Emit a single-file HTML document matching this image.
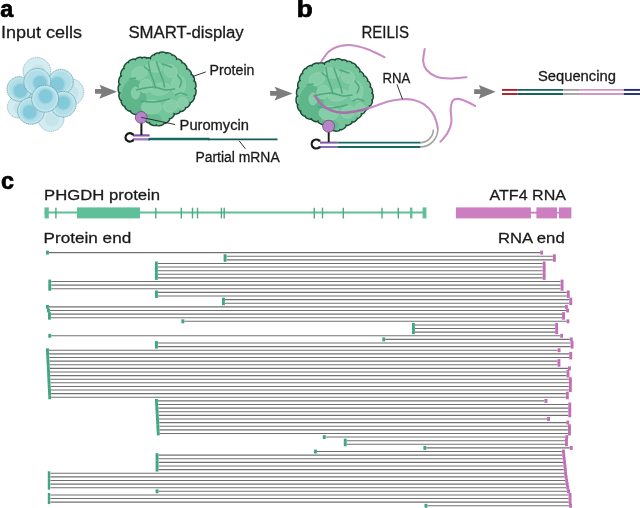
<!DOCTYPE html>
<html><head><meta charset="utf-8"><style>
html,body{margin:0;padding:0;background:#fff;}
svg{display:block;}
text{font-family:"Liberation Sans", sans-serif;}
</style></head><body>
<svg width="640" height="508" viewBox="0 0 640 508">
<rect width="640" height="508" fill="#fff"/>
<circle cx="36.9" cy="71.2" r="13.8" fill="#d3ecf1" stroke="#87b2b9" stroke-width="0.85" stroke-dasharray="1.2 0.7"/>
<circle cx="37.9" cy="72.2" r="7.6" fill="#c6e5eb"/>
<circle cx="18.4" cy="107.0" r="11.0" fill="#d3ecf1" stroke="#87b2b9" stroke-width="0.85" stroke-dasharray="1.2 0.7"/>
<circle cx="19.4" cy="108.0" r="6.1" fill="#c6e5eb"/>
<circle cx="70.3" cy="92.0" r="13.4" fill="#d3ecf1" stroke="#87b2b9" stroke-width="0.85" stroke-dasharray="1.2 0.7"/>
<circle cx="71.3" cy="93.0" r="7.4" fill="#c6e5eb"/>
<circle cx="51.0" cy="118.4" r="13.0" fill="#d3ecf1" stroke="#87b2b9" stroke-width="0.85" stroke-dasharray="1.2 0.7"/>
<circle cx="52.0" cy="119.4" r="7.2" fill="#c6e5eb"/>
<circle cx="27" cy="97" r="8" fill="#b0dde7"/>
<circle cx="19.3" cy="89.0" r="12.3" fill="#bde5ed" stroke="#6399a2" stroke-width="0.85" stroke-dasharray="1.3 0.6"/>
<circle cx="19.3" cy="89.0" r="9.9" fill="#b0dde7" />
<circle cx="20.4" cy="90.8" r="8.1" fill="#9fd4e0" />
<circle cx="20.4" cy="90.8" r="6.7" fill="#84c9da" />
<circle cx="60.9" cy="81.8" r="12.4" fill="#bde5ed" stroke="#6399a2" stroke-width="0.85" stroke-dasharray="1.3 0.6"/>
<circle cx="60.9" cy="81.8" r="10.0" fill="#b0dde7" />
<circle cx="57.4" cy="84.1" r="8.2" fill="#9fd4e0" />
<circle cx="57.4" cy="84.1" r="6.8" fill="#84c9da" />
<circle cx="37.3" cy="81.8" r="13.4" fill="#bde5ed" stroke="#6399a2" stroke-width="0.85" stroke-dasharray="1.3 0.6"/>
<circle cx="37.3" cy="81.8" r="11.0" fill="#b0dde7" />
<circle cx="40.0" cy="82.6" r="7.9" fill="#9fd4e0" />
<circle cx="40.0" cy="82.6" r="6.5" fill="#84c9da" />
<circle cx="63.3" cy="104.2" r="12.8" fill="#bde5ed" stroke="#6399a2" stroke-width="0.85" stroke-dasharray="1.3 0.6"/>
<circle cx="63.3" cy="104.2" r="10.4" fill="#b0dde7" />
<circle cx="63.3" cy="102.7" r="7.9" fill="#9fd4e0" />
<circle cx="63.3" cy="102.7" r="6.5" fill="#84c9da" />
<circle cx="31.0" cy="110.9" r="13.4" fill="#bde5ed" stroke="#6399a2" stroke-width="0.85" stroke-dasharray="1.3 0.6"/>
<circle cx="31.0" cy="110.9" r="11.0" fill="#b0dde7" />
<circle cx="29.8" cy="112.1" r="8.1" fill="#9fd4e0" />
<circle cx="29.8" cy="112.1" r="6.7" fill="#84c9da" />
<circle cx="45.1" cy="98.7" r="13.5" fill="#bde5ed" stroke="#6399a2" stroke-width="0.85" stroke-dasharray="1.3 0.6"/>
<circle cx="45.1" cy="98.7" r="11.1" fill="#b0dde7" />
<circle cx="45.6" cy="96.3" r="8.1" fill="#9fd4e0" />
<circle cx="45.6" cy="96.3" r="6.7" fill="#84c9da" />
<polygon points="95,89.1 101.5,89.1 99.4,84.7 117,91.7 99.4,98.7 101.5,93.8 95,93.8" fill="#7d7d7d"/>
<polygon points="270.1,91.1 276.7,91.1 274.5,86.8 292.6,93.4 274.5,100.5 276.7,95.8 270.1,95.8" fill="#7d7d7d"/>
<polygon points="474.1,89.3 480.6,89.3 478.8,85.0 495.6,91.7 478.8,98.7 480.6,94.1 474.1,94.1" fill="#7d7d7d"/>
<clipPath id="cpA"><path d="M121.50,76.00 C119.31,75.21 122.01,67.71 124.20,68.50 C122.44,67.24 126.74,61.24 128.50,62.50 C127.71,60.45 134.71,57.75 135.50,59.80 C135.03,57.90 141.53,56.30 142.00,58.20 C142.03,56.88 146.53,56.98 146.50,58.30 C146.65,57.13 150.65,57.63 150.50,58.80 C149.39,57.63 153.39,53.83 154.50,55.00 C154.06,53.68 158.56,52.18 159.00,53.50 C159.03,51.45 166.03,51.55 166.00,53.60 C166.47,51.84 172.47,53.44 172.00,55.20 C173.17,53.88 177.67,57.88 176.50,59.20 C177.61,57.59 183.11,61.39 182.00,63.00 C183.76,61.68 188.26,67.68 186.50,69.00 C188.11,67.68 192.61,73.18 191.00,74.50 C192.90,73.68 195.70,80.18 193.80,81.00 C195.99,80.71 196.99,88.21 194.80,88.50 C196.99,88.73 196.19,96.23 194.00,96.00 C195.90,97.17 191.90,103.67 190.00,102.50 C191.46,103.82 186.96,108.82 185.50,107.50 C186.58,109.11 181.08,112.81 180.00,111.20 C180.67,112.96 174.67,115.26 174.00,113.50 C175.46,114.82 170.96,119.82 169.50,118.50 C170.82,120.11 165.32,124.61 164.00,123.00 C164.53,125.19 157.03,126.99 156.50,124.80 C155.86,126.85 148.86,124.65 149.50,122.60 C148.39,124.06 143.39,120.26 144.50,118.80 C143.04,120.85 136.04,115.85 137.50,113.80 C136.62,115.85 129.62,112.85 130.50,110.80 C129.15,112.41 123.65,107.81 125.00,106.20 C123.33,107.22 119.83,101.52 121.50,100.50 C119.31,100.94 117.81,93.44 120.00,93.00 C117.51,93.00 117.51,84.50 120.00,84.50 C117.51,84.06 119.01,75.56 121.50,76.00Z"/></clipPath>
<path d="M121.50,76.00 C119.31,75.21 122.01,67.71 124.20,68.50 C122.44,67.24 126.74,61.24 128.50,62.50 C127.71,60.45 134.71,57.75 135.50,59.80 C135.03,57.90 141.53,56.30 142.00,58.20 C142.03,56.88 146.53,56.98 146.50,58.30 C146.65,57.13 150.65,57.63 150.50,58.80 C149.39,57.63 153.39,53.83 154.50,55.00 C154.06,53.68 158.56,52.18 159.00,53.50 C159.03,51.45 166.03,51.55 166.00,53.60 C166.47,51.84 172.47,53.44 172.00,55.20 C173.17,53.88 177.67,57.88 176.50,59.20 C177.61,57.59 183.11,61.39 182.00,63.00 C183.76,61.68 188.26,67.68 186.50,69.00 C188.11,67.68 192.61,73.18 191.00,74.50 C192.90,73.68 195.70,80.18 193.80,81.00 C195.99,80.71 196.99,88.21 194.80,88.50 C196.99,88.73 196.19,96.23 194.00,96.00 C195.90,97.17 191.90,103.67 190.00,102.50 C191.46,103.82 186.96,108.82 185.50,107.50 C186.58,109.11 181.08,112.81 180.00,111.20 C180.67,112.96 174.67,115.26 174.00,113.50 C175.46,114.82 170.96,119.82 169.50,118.50 C170.82,120.11 165.32,124.61 164.00,123.00 C164.53,125.19 157.03,126.99 156.50,124.80 C155.86,126.85 148.86,124.65 149.50,122.60 C148.39,124.06 143.39,120.26 144.50,118.80 C143.04,120.85 136.04,115.85 137.50,113.80 C136.62,115.85 129.62,112.85 130.50,110.80 C129.15,112.41 123.65,107.81 125.00,106.20 C123.33,107.22 119.83,101.52 121.50,100.50 C119.31,100.94 117.81,93.44 120.00,93.00 C117.51,93.00 117.51,84.50 120.00,84.50 C117.51,84.06 119.01,75.56 121.50,76.00Z" fill="#74c59c"/>
<g clip-path="url(#cpA)">
<ellipse cx="133.5" cy="101" rx="13" ry="22" fill="#5fb68b"/>
<ellipse cx="149.5" cy="119" rx="12" ry="6" fill="#66ba90"/>
<ellipse cx="139.5" cy="73.0" rx="8" ry="6" transform="rotate(-20 139.5 73.0)" fill="#84cda7" stroke="#93d4b2" stroke-width="0.8"/>
<ellipse cx="154.5" cy="67.0" rx="8" ry="5" transform="rotate(10 154.5 67.0)" fill="#84cda7" stroke="#93d4b2" stroke-width="0.8"/>
<ellipse cx="170.5" cy="71.0" rx="7" ry="6" transform="rotate(40 170.5 71.0)" fill="#84cda7" stroke="#93d4b2" stroke-width="0.8"/>
<ellipse cx="178.5" cy="85.0" rx="7" ry="10" transform="rotate(0 178.5 85.0)" fill="#84cda7" stroke="#93d4b2" stroke-width="0.8"/>
<ellipse cx="145.5" cy="86.0" rx="6" ry="7" transform="rotate(30 145.5 86.0)" fill="#84cda7" stroke="#93d4b2" stroke-width="0.8"/>
<ellipse cx="160.5" cy="89.0" rx="10" ry="6" transform="rotate(-10 160.5 89.0)" fill="#84cda7" stroke="#93d4b2" stroke-width="0.8"/>
<ellipse cx="135.5" cy="93.0" rx="4" ry="6" transform="rotate(0 135.5 93.0)" fill="#84cda7" stroke="#93d4b2" stroke-width="0.8"/>
<ellipse cx="151.5" cy="107.0" rx="10" ry="7" transform="rotate(0 151.5 107.0)" fill="#84cda7" stroke="#93d4b2" stroke-width="0.8"/>
<ellipse cx="170.5" cy="106.0" rx="7" ry="6" transform="rotate(-20 170.5 106.0)" fill="#84cda7" stroke="#93d4b2" stroke-width="0.8"/>
<ellipse cx="182.5" cy="103.0" rx="5" ry="6" transform="rotate(0 182.5 103.0)" fill="#84cda7" stroke="#93d4b2" stroke-width="0.8"/>
<path d="M148.50,62.00 C148.83,63.83 149.67,69.83 150.50,73.00 C151.33,76.17 152.67,78.50 153.50,81.00 C154.33,83.50 155.17,86.83 155.50,88.00" fill="none" stroke="#4fa97d" stroke-width="1.5" stroke-linecap="round"/>
<path d="M156.50,62.00 C157.00,63.50 158.33,67.67 159.50,71.00 C160.67,74.33 162.67,79.33 163.50,82.00 C164.33,84.67 164.33,86.17 164.50,87.00" fill="none" stroke="#4fa97d" stroke-width="1.5" stroke-linecap="round"/>
<path d="M136.50,90.00 C138.00,89.67 142.50,88.50 145.50,88.00 C148.50,87.50 151.17,86.67 154.50,87.00 C157.83,87.33 162.17,89.67 165.50,90.00 C168.83,90.33 173.00,89.17 174.50,89.00" fill="none" stroke="#4fa97d" stroke-width="1.5" stroke-linecap="round"/>
<path d="M140.50,101.00 C142.67,101.17 148.67,102.33 153.50,102.00 C158.33,101.67 166.83,99.50 169.50,99.00" fill="none" stroke="#4fa97d" stroke-width="1.5" stroke-linecap="round"/>
<path d="M129.50,79.00 C130.50,78.83 134.50,78.17 135.50,78.00" fill="none" stroke="#4fa97d" stroke-width="1.5" stroke-linecap="round"/>
<path d="M162.50,64.00 C164.00,64.50 170.00,66.50 171.50,67.00" fill="none" stroke="#4fa97d" stroke-width="1.5" stroke-linecap="round"/>
<path d="M175.50,95.00 C176.33,94.67 178.67,93.00 180.50,93.00 C182.33,93.00 185.50,94.67 186.50,95.00" fill="none" stroke="#4fa97d" stroke-width="1.5" stroke-linecap="round"/>
<path d="M144.50,67.00 C145.33,67.67 148.67,70.33 149.50,71.00" fill="none" stroke="#4fa97d" stroke-width="1.5" stroke-linecap="round"/>
<path d="M177.50,75.00 C178.17,76.00 181.17,79.00 181.50,81.00 C181.83,83.00 179.83,86.00 179.50,87.00" fill="none" stroke="#4fa97d" stroke-width="1.5" stroke-linecap="round"/>
</g>
<path d="M121.50,76.00 C119.31,75.21 122.01,67.71 124.20,68.50 C122.44,67.24 126.74,61.24 128.50,62.50 C127.71,60.45 134.71,57.75 135.50,59.80 C135.03,57.90 141.53,56.30 142.00,58.20 C142.03,56.88 146.53,56.98 146.50,58.30 C146.65,57.13 150.65,57.63 150.50,58.80 C149.39,57.63 153.39,53.83 154.50,55.00 C154.06,53.68 158.56,52.18 159.00,53.50 C159.03,51.45 166.03,51.55 166.00,53.60 C166.47,51.84 172.47,53.44 172.00,55.20 C173.17,53.88 177.67,57.88 176.50,59.20 C177.61,57.59 183.11,61.39 182.00,63.00 C183.76,61.68 188.26,67.68 186.50,69.00 C188.11,67.68 192.61,73.18 191.00,74.50 C192.90,73.68 195.70,80.18 193.80,81.00 C195.99,80.71 196.99,88.21 194.80,88.50 C196.99,88.73 196.19,96.23 194.00,96.00 C195.90,97.17 191.90,103.67 190.00,102.50 C191.46,103.82 186.96,108.82 185.50,107.50 C186.58,109.11 181.08,112.81 180.00,111.20 C180.67,112.96 174.67,115.26 174.00,113.50 C175.46,114.82 170.96,119.82 169.50,118.50 C170.82,120.11 165.32,124.61 164.00,123.00 C164.53,125.19 157.03,126.99 156.50,124.80 C155.86,126.85 148.86,124.65 149.50,122.60 C148.39,124.06 143.39,120.26 144.50,118.80 C143.04,120.85 136.04,115.85 137.50,113.80 C136.62,115.85 129.62,112.85 130.50,110.80 C129.15,112.41 123.65,107.81 125.00,106.20 C123.33,107.22 119.83,101.52 121.50,100.50 C119.31,100.94 117.81,93.44 120.00,93.00 C117.51,93.00 117.51,84.50 120.00,84.50 C117.51,84.06 119.01,75.56 121.50,76.00Z" fill="none" stroke="#1d4a33" stroke-width="1.45" stroke-linejoin="round"/>
<clipPath id="cpB"><path d="M297.80,96.00 C295.46,95.71 296.46,87.71 298.80,88.00 C296.61,87.59 298.01,80.09 300.20,80.50 C298.15,79.74 300.75,72.74 302.80,73.50 C301.34,72.42 305.04,67.42 306.50,68.50 C305.77,66.89 311.27,64.39 312.00,66.00 C311.36,64.10 317.86,61.90 318.50,63.80 C318.65,62.04 324.65,62.54 324.50,64.30 C323.71,62.98 328.21,60.28 329.00,61.60 C328.59,59.84 334.59,58.44 335.00,60.20 C335.09,58.15 342.09,58.45 342.00,60.50 C342.38,59.04 347.38,60.34 347.00,61.80 C347.41,60.34 352.41,61.74 352.00,63.20 C353.11,61.94 357.41,65.74 356.30,67.00 C357.70,65.98 361.20,70.78 359.80,71.80 C361.03,70.69 364.83,74.89 363.60,76.00 C365.06,74.89 368.86,79.89 367.40,81.00 C369.16,80.24 371.76,86.24 370.00,87.00 C371.81,86.47 373.61,92.67 371.80,93.20 C373.79,93.20 373.79,100.00 371.80,100.00 C373.50,100.70 371.10,106.50 369.40,105.80 C370.57,107.03 366.37,111.03 365.20,109.80 C366.37,110.97 362.37,114.97 361.20,113.80 C362.49,114.97 358.49,119.37 357.20,118.20 C358.19,119.72 352.99,123.12 352.00,121.60 C352.99,123.36 346.99,126.76 346.00,125.00 C347.29,126.76 341.29,131.16 340.00,129.40 C340.32,131.01 334.82,132.11 334.50,130.50 C333.77,131.82 329.27,129.32 330.00,128.00 C328.83,129.61 323.33,125.61 324.50,124.00 C323.62,125.90 317.12,122.90 318.00,121.00 C317.30,122.90 310.80,120.50 311.50,118.60 C310.74,120.44 304.44,117.84 305.20,116.00 C303.74,117.29 299.34,112.29 300.80,111.00 C298.90,111.82 296.10,105.32 298.00,104.50 C295.51,104.56 295.31,96.06 297.80,96.00Z"/></clipPath>
<path d="M297.80,96.00 C295.46,95.71 296.46,87.71 298.80,88.00 C296.61,87.59 298.01,80.09 300.20,80.50 C298.15,79.74 300.75,72.74 302.80,73.50 C301.34,72.42 305.04,67.42 306.50,68.50 C305.77,66.89 311.27,64.39 312.00,66.00 C311.36,64.10 317.86,61.90 318.50,63.80 C318.65,62.04 324.65,62.54 324.50,64.30 C323.71,62.98 328.21,60.28 329.00,61.60 C328.59,59.84 334.59,58.44 335.00,60.20 C335.09,58.15 342.09,58.45 342.00,60.50 C342.38,59.04 347.38,60.34 347.00,61.80 C347.41,60.34 352.41,61.74 352.00,63.20 C353.11,61.94 357.41,65.74 356.30,67.00 C357.70,65.98 361.20,70.78 359.80,71.80 C361.03,70.69 364.83,74.89 363.60,76.00 C365.06,74.89 368.86,79.89 367.40,81.00 C369.16,80.24 371.76,86.24 370.00,87.00 C371.81,86.47 373.61,92.67 371.80,93.20 C373.79,93.20 373.79,100.00 371.80,100.00 C373.50,100.70 371.10,106.50 369.40,105.80 C370.57,107.03 366.37,111.03 365.20,109.80 C366.37,110.97 362.37,114.97 361.20,113.80 C362.49,114.97 358.49,119.37 357.20,118.20 C358.19,119.72 352.99,123.12 352.00,121.60 C352.99,123.36 346.99,126.76 346.00,125.00 C347.29,126.76 341.29,131.16 340.00,129.40 C340.32,131.01 334.82,132.11 334.50,130.50 C333.77,131.82 329.27,129.32 330.00,128.00 C328.83,129.61 323.33,125.61 324.50,124.00 C323.62,125.90 317.12,122.90 318.00,121.00 C317.30,122.90 310.80,120.50 311.50,118.60 C310.74,120.44 304.44,117.84 305.20,116.00 C303.74,117.29 299.34,112.29 300.80,111.00 C298.90,111.82 296.10,105.32 298.00,104.50 C295.51,104.56 295.31,96.06 297.80,96.00Z" fill="#74c59c"/>
<g clip-path="url(#cpB)">
<ellipse cx="311" cy="107" rx="13" ry="22" fill="#5fb68b"/>
<ellipse cx="327" cy="125" rx="12" ry="6" fill="#66ba90"/>
<ellipse cx="317.0" cy="79.0" rx="8" ry="6" transform="rotate(-20 317.0 79.0)" fill="#84cda7" stroke="#93d4b2" stroke-width="0.8"/>
<ellipse cx="332.0" cy="73.0" rx="8" ry="5" transform="rotate(10 332.0 73.0)" fill="#84cda7" stroke="#93d4b2" stroke-width="0.8"/>
<ellipse cx="348.0" cy="77.0" rx="7" ry="6" transform="rotate(40 348.0 77.0)" fill="#84cda7" stroke="#93d4b2" stroke-width="0.8"/>
<ellipse cx="356.0" cy="91.0" rx="7" ry="10" transform="rotate(0 356.0 91.0)" fill="#84cda7" stroke="#93d4b2" stroke-width="0.8"/>
<ellipse cx="323.0" cy="92.0" rx="6" ry="7" transform="rotate(30 323.0 92.0)" fill="#84cda7" stroke="#93d4b2" stroke-width="0.8"/>
<ellipse cx="338.0" cy="95.0" rx="10" ry="6" transform="rotate(-10 338.0 95.0)" fill="#84cda7" stroke="#93d4b2" stroke-width="0.8"/>
<ellipse cx="313.0" cy="99.0" rx="4" ry="6" transform="rotate(0 313.0 99.0)" fill="#84cda7" stroke="#93d4b2" stroke-width="0.8"/>
<ellipse cx="329.0" cy="113.0" rx="10" ry="7" transform="rotate(0 329.0 113.0)" fill="#84cda7" stroke="#93d4b2" stroke-width="0.8"/>
<ellipse cx="348.0" cy="112.0" rx="7" ry="6" transform="rotate(-20 348.0 112.0)" fill="#84cda7" stroke="#93d4b2" stroke-width="0.8"/>
<ellipse cx="360.0" cy="109.0" rx="5" ry="6" transform="rotate(0 360.0 109.0)" fill="#84cda7" stroke="#93d4b2" stroke-width="0.8"/>
<path d="M326.00,68.00 C326.33,69.83 327.17,75.83 328.00,79.00 C328.83,82.17 330.17,84.50 331.00,87.00 C331.83,89.50 332.67,92.83 333.00,94.00" fill="none" stroke="#4fa97d" stroke-width="1.5" stroke-linecap="round"/>
<path d="M334.00,68.00 C334.50,69.50 335.83,73.67 337.00,77.00 C338.17,80.33 340.17,85.33 341.00,88.00 C341.83,90.67 341.83,92.17 342.00,93.00" fill="none" stroke="#4fa97d" stroke-width="1.5" stroke-linecap="round"/>
<path d="M314.00,96.00 C315.50,95.67 320.00,94.50 323.00,94.00 C326.00,93.50 328.67,92.67 332.00,93.00 C335.33,93.33 339.67,95.67 343.00,96.00 C346.33,96.33 350.50,95.17 352.00,95.00" fill="none" stroke="#4fa97d" stroke-width="1.5" stroke-linecap="round"/>
<path d="M318.00,107.00 C320.17,107.17 326.17,108.33 331.00,108.00 C335.83,107.67 344.33,105.50 347.00,105.00" fill="none" stroke="#4fa97d" stroke-width="1.5" stroke-linecap="round"/>
<path d="M307.00,85.00 C308.00,84.83 312.00,84.17 313.00,84.00" fill="none" stroke="#4fa97d" stroke-width="1.5" stroke-linecap="round"/>
<path d="M340.00,70.00 C341.50,70.50 347.50,72.50 349.00,73.00" fill="none" stroke="#4fa97d" stroke-width="1.5" stroke-linecap="round"/>
<path d="M353.00,101.00 C353.83,100.67 356.17,99.00 358.00,99.00 C359.83,99.00 363.00,100.67 364.00,101.00" fill="none" stroke="#4fa97d" stroke-width="1.5" stroke-linecap="round"/>
<path d="M322.00,73.00 C322.83,73.67 326.17,76.33 327.00,77.00" fill="none" stroke="#4fa97d" stroke-width="1.5" stroke-linecap="round"/>
<path d="M355.00,81.00 C355.67,82.00 358.67,85.00 359.00,87.00 C359.33,89.00 357.33,92.00 357.00,93.00" fill="none" stroke="#4fa97d" stroke-width="1.5" stroke-linecap="round"/>
</g>
<path d="M297.80,96.00 C295.46,95.71 296.46,87.71 298.80,88.00 C296.61,87.59 298.01,80.09 300.20,80.50 C298.15,79.74 300.75,72.74 302.80,73.50 C301.34,72.42 305.04,67.42 306.50,68.50 C305.77,66.89 311.27,64.39 312.00,66.00 C311.36,64.10 317.86,61.90 318.50,63.80 C318.65,62.04 324.65,62.54 324.50,64.30 C323.71,62.98 328.21,60.28 329.00,61.60 C328.59,59.84 334.59,58.44 335.00,60.20 C335.09,58.15 342.09,58.45 342.00,60.50 C342.38,59.04 347.38,60.34 347.00,61.80 C347.41,60.34 352.41,61.74 352.00,63.20 C353.11,61.94 357.41,65.74 356.30,67.00 C357.70,65.98 361.20,70.78 359.80,71.80 C361.03,70.69 364.83,74.89 363.60,76.00 C365.06,74.89 368.86,79.89 367.40,81.00 C369.16,80.24 371.76,86.24 370.00,87.00 C371.81,86.47 373.61,92.67 371.80,93.20 C373.79,93.20 373.79,100.00 371.80,100.00 C373.50,100.70 371.10,106.50 369.40,105.80 C370.57,107.03 366.37,111.03 365.20,109.80 C366.37,110.97 362.37,114.97 361.20,113.80 C362.49,114.97 358.49,119.37 357.20,118.20 C358.19,119.72 352.99,123.12 352.00,121.60 C352.99,123.36 346.99,126.76 346.00,125.00 C347.29,126.76 341.29,131.16 340.00,129.40 C340.32,131.01 334.82,132.11 334.50,130.50 C333.77,131.82 329.27,129.32 330.00,128.00 C328.83,129.61 323.33,125.61 324.50,124.00 C323.62,125.90 317.12,122.90 318.00,121.00 C317.30,122.90 310.80,120.50 311.50,118.60 C310.74,120.44 304.44,117.84 305.20,116.00 C303.74,117.29 299.34,112.29 300.80,111.00 C298.90,111.82 296.10,105.32 298.00,104.50 C295.51,104.56 295.31,96.06 297.80,96.00Z" fill="none" stroke="#1d4a33" stroke-width="1.45" stroke-linejoin="round"/>
<line x1="192.5" y1="76.6" x2="205.8" y2="71.9" stroke="#231f20" stroke-width="0.9"/>
<line x1="142" y1="117.5" x2="175" y2="124.5" stroke="#231f20" stroke-width="0.9"/>
<line x1="239" y1="140.6" x2="245.4" y2="148.8" stroke="#231f20" stroke-width="0.9"/>
<line x1="149.4" y1="139.1" x2="209.4" y2="139.1" stroke="#176a63" stroke-width="2.5"/>
<line x1="208" y1="139.35" x2="277.5" y2="139.35" stroke="#135b56" stroke-width="1.6"/>
<line x1="133.0" y1="135.4" x2="149.6" y2="135.4" stroke="#7d5a9e" stroke-width="2.2"/>
<line x1="133.0" y1="139.3" x2="148.6" y2="139.3" stroke="#a37cc6" stroke-width="2.4"/>
<line x1="148.2" y1="139.3" x2="150" y2="139.3" stroke="#176a63" stroke-width="2.4"/>
<path d="M133.81,134.28 L132.61,134.28 A4.2,4.2 0 1 0 132.61,140.52 L133.81,140.52" fill="none" stroke="#1a1a1a" stroke-width="2.3"/>
<line x1="141.4" y1="122" x2="141.4" y2="135" stroke="#1a1a1a" stroke-width="2.0"/>
<circle cx="141.2" cy="117.4" r="5.9" fill="#b784c9" stroke="#6d4a7c" stroke-width="0.8"/>
<line x1="141.2" y1="117.4" x2="147" y2="118.6" stroke="#231f20" stroke-width="0.8"/>
<path d="M321.30,61.50 C322.47,59.90 325.73,54.32 328.30,51.90 C330.87,49.48 333.65,48.13 336.70,47.00 C339.75,45.87 343.32,45.27 346.60,45.10 C349.88,44.93 352.67,45.22 356.40,46.00 C360.13,46.78 364.32,47.93 369.00,49.80 C373.68,51.67 381.92,55.97 384.50,57.20" fill="none" stroke="#c98dc6" stroke-width="2.1" stroke-linecap="round"/>
<path d="M315.10,95.80 C316.22,97.32 319.03,102.42 321.80,104.90 C324.57,107.38 328.13,109.38 331.70,110.70 C335.27,112.02 339.35,112.67 343.20,112.80 C347.05,112.93 350.93,112.13 354.80,111.50 C358.67,110.87 362.53,110.10 366.40,109.00 C370.27,107.90 374.23,106.20 378.00,104.90 C381.77,103.60 385.02,102.13 389.00,101.20 C392.98,100.27 397.93,99.55 401.90,99.30 C405.87,99.05 409.15,98.90 412.80,99.70 C416.45,100.50 420.52,101.92 423.80,104.10 C427.08,106.28 430.42,109.90 432.50,112.80 C434.58,115.70 435.42,118.87 436.30,121.50 C437.18,124.13 437.55,127.42 437.80,128.60" fill="none" stroke="#c98dc6" stroke-width="2.1" stroke-linecap="round"/>
<path d="M315.10,95.80 C316.22,97.32 319.03,102.42 321.80,104.90 C324.57,107.38 328.13,109.38 331.70,110.70 C335.27,112.02 339.35,112.67 343.20,112.80 C347.05,112.93 350.93,112.13 354.80,111.50 C358.67,110.87 362.53,110.10 366.40,109.00 C370.27,107.90 374.23,106.20 378.00,104.90 C381.77,103.60 385.02,102.13 389.00,101.20 C392.98,100.27 397.93,99.55 401.90,99.30 C405.87,99.05 409.15,98.90 412.80,99.70 C416.45,100.50 420.52,101.92 423.80,104.10 C427.08,106.28 430.42,109.90 432.50,112.80 C434.58,115.70 435.42,118.87 436.30,121.50 C437.18,124.13 437.55,127.42 437.80,128.60" fill="none" stroke="#a870aa" stroke-width="2.4" stroke-linecap="round" clip-path="url(#cpB)"/>
<path d="M420,142.6 A13,13 0 0 0 433.4,129.6" fill="none" stroke="#a3a3a3" stroke-width="1.6"/>
<path d="M420,146.9 A17.6,17.6 0 0 0 437.8,128.6" fill="none" stroke="#a3a3a3" stroke-width="1.6"/>
<line x1="337.3" y1="142.7" x2="420.2" y2="142.7" stroke="#176a63" stroke-width="1.8"/>
<line x1="337.3" y1="147.0" x2="420.2" y2="147.0" stroke="#176a63" stroke-width="1.8"/>
<line x1="320" y1="142.6" x2="337.3" y2="142.6" stroke="#7d5a9e" stroke-width="2.0"/>
<line x1="320" y1="147.0" x2="337.3" y2="147.0" stroke="#8f68b4" stroke-width="2.0"/>
<path d="M320.41,140.66 L319.21,140.66 A4.5,4.5 0 1 0 319.21,147.34 L320.41,147.34" fill="none" stroke="#1a1a1a" stroke-width="2.2"/>
<line x1="328.7" y1="131" x2="328.7" y2="142" stroke="#1a1a1a" stroke-width="1.9"/>
<circle cx="328.6" cy="126.2" r="6.0" fill="#b784c9" stroke="#6d4a7c" stroke-width="0.8"/>
<line x1="397" y1="84.4" x2="402.5" y2="99.3" stroke="#231f20" stroke-width="0.9"/>
<path d="M424.70,49.10 C424.45,51.18 422.83,58.07 423.20,61.60 C423.57,65.13 424.67,67.77 426.90,70.30 C429.13,72.83 432.82,75.43 436.60,76.80 C440.38,78.17 444.62,78.43 449.60,78.50 C454.58,78.57 463.68,77.42 466.50,77.20" fill="none" stroke="#c98dc6" stroke-width="2.1" stroke-linecap="round"/>
<path d="M440.50,141.70 C441.67,140.27 445.68,136.35 447.50,133.10 C449.32,129.85 450.87,126.17 451.40,122.20 C451.93,118.23 450.45,112.90 450.70,109.30 C450.95,105.70 451.63,102.33 452.90,100.60 C454.17,98.87 455.95,98.72 458.30,98.90 C460.65,99.08 464.18,100.52 467.00,101.70 C469.82,102.88 473.83,105.28 475.20,106.00" fill="none" stroke="#c98dc6" stroke-width="2.1" stroke-linecap="round"/>
<line x1="502" y1="89.9" x2="517.8" y2="89.9" stroke="#a91e28" stroke-width="1.9"/>
<line x1="502" y1="94.0" x2="517.8" y2="94.0" stroke="#a91e28" stroke-width="1.9"/>
<line x1="517.8" y1="89.9" x2="563.2" y2="89.9" stroke="#17625d" stroke-width="1.9"/>
<line x1="517.8" y1="94.0" x2="563.2" y2="94.0" stroke="#17625d" stroke-width="1.9"/>
<line x1="563.2" y1="89.9" x2="579.0" y2="89.9" stroke="#a3a3a3" stroke-width="1.9"/>
<line x1="563.2" y1="94.0" x2="579.0" y2="94.0" stroke="#a3a3a3" stroke-width="1.9"/>
<line x1="579.0" y1="89.9" x2="623.8" y2="89.9" stroke="#cc98c7" stroke-width="1.9"/>
<line x1="579.0" y1="94.0" x2="623.8" y2="94.0" stroke="#cc98c7" stroke-width="1.9"/>
<line x1="623.8" y1="89.9" x2="640" y2="89.9" stroke="#222c78" stroke-width="1.9"/>
<line x1="623.8" y1="94.0" x2="640" y2="94.0" stroke="#222c78" stroke-width="1.9"/>
<line x1="44.5" y1="212.4" x2="426" y2="212.4" stroke="#5fbf98" stroke-width="2"/>
<rect x="44.5" y="207.4" width="4.3" height="11" fill="#5fbf98"/>
<rect x="77" y="207.4" width="63" height="11" fill="#5fbf98"/>
<rect x="422.6" y="207.4" width="3.8" height="11" fill="#5fbf98"/>
<line x1="55.9" y1="207.7" x2="55.9" y2="218.4" stroke="#4aaa85" stroke-width="1.4"/>
<line x1="155.8" y1="207.7" x2="155.8" y2="218.4" stroke="#4aaa85" stroke-width="1.4"/>
<line x1="181.3" y1="207.7" x2="181.3" y2="218.4" stroke="#4aaa85" stroke-width="1.4"/>
<line x1="192.5" y1="207.7" x2="192.5" y2="218.4" stroke="#4aaa85" stroke-width="1.4"/>
<line x1="197.5" y1="207.7" x2="197.5" y2="218.4" stroke="#4aaa85" stroke-width="1.4"/>
<line x1="221.4" y1="207.7" x2="221.4" y2="218.4" stroke="#4aaa85" stroke-width="1.4"/>
<line x1="224.2" y1="207.7" x2="224.2" y2="218.4" stroke="#4aaa85" stroke-width="1.4"/>
<line x1="314.3" y1="207.7" x2="314.3" y2="218.4" stroke="#4aaa85" stroke-width="1.4"/>
<line x1="322.5" y1="207.7" x2="322.5" y2="218.4" stroke="#4aaa85" stroke-width="1.4"/>
<line x1="343.3" y1="207.7" x2="343.3" y2="218.4" stroke="#4aaa85" stroke-width="1.4"/>
<line x1="382.0" y1="207.7" x2="382.0" y2="218.4" stroke="#4aaa85" stroke-width="1.4"/>
<line x1="398.3" y1="207.7" x2="398.3" y2="218.4" stroke="#4aaa85" stroke-width="1.4"/>
<rect x="410" y="207.6" width="2.4" height="10.8" fill="#5fbf98"/>
<rect x="455.9" y="207.4" width="75" height="11" fill="#cb7fc1"/>
<rect x="530" y="211.7" width="7" height="1.9" fill="#cb7fc1"/>
<rect x="536.4" y="207.4" width="20.7" height="11" fill="#cb7fc1"/>
<rect x="558.9" y="207.4" width="12.5" height="11" fill="#cb7fc1"/>
<rect x="556" y="211.9" width="4" height="1.6" fill="#cb7fc1"/>
<line x1="49.00" y1="252.60" x2="540.10" y2="252.60" stroke="#707070" stroke-width="1.1"/>
<line x1="226.60" y1="256.22" x2="552.80" y2="256.22" stroke="#707070" stroke-width="1.1"/>
<line x1="226.60" y1="259.83" x2="552.80" y2="259.83" stroke="#707070" stroke-width="1.1"/>
<line x1="157.90" y1="263.45" x2="542.60" y2="263.45" stroke="#707070" stroke-width="1.1"/>
<line x1="157.90" y1="267.07" x2="542.60" y2="267.07" stroke="#707070" stroke-width="1.1"/>
<line x1="157.90" y1="270.69" x2="542.60" y2="270.69" stroke="#707070" stroke-width="1.1"/>
<line x1="157.90" y1="274.30" x2="542.60" y2="274.30" stroke="#707070" stroke-width="1.1"/>
<line x1="157.90" y1="277.92" x2="542.60" y2="277.92" stroke="#707070" stroke-width="1.1"/>
<line x1="51.30" y1="281.54" x2="560.50" y2="281.54" stroke="#707070" stroke-width="1.1"/>
<line x1="51.30" y1="285.15" x2="560.50" y2="285.15" stroke="#707070" stroke-width="1.1"/>
<line x1="51.30" y1="288.77" x2="560.50" y2="288.77" stroke="#707070" stroke-width="1.1"/>
<line x1="158.00" y1="292.39" x2="566.70" y2="292.39" stroke="#707070" stroke-width="1.1"/>
<line x1="158.00" y1="296.00" x2="566.70" y2="296.00" stroke="#707070" stroke-width="1.1"/>
<line x1="225.00" y1="299.62" x2="569.20" y2="299.62" stroke="#707070" stroke-width="1.1"/>
<line x1="225.00" y1="303.24" x2="569.20" y2="303.24" stroke="#707070" stroke-width="1.1"/>
<line x1="49.00" y1="306.86" x2="564.80" y2="306.86" stroke="#707070" stroke-width="1.1"/>
<line x1="50.00" y1="310.47" x2="566.00" y2="310.47" stroke="#707070" stroke-width="1.1"/>
<line x1="51.00" y1="314.09" x2="562.00" y2="314.09" stroke="#707070" stroke-width="1.1"/>
<line x1="51.00" y1="317.71" x2="562.00" y2="317.71" stroke="#707070" stroke-width="1.1"/>
<line x1="184.40" y1="321.32" x2="566.40" y2="321.32" stroke="#707070" stroke-width="1.1"/>
<line x1="415.00" y1="324.94" x2="555.10" y2="324.94" stroke="#707070" stroke-width="1.1"/>
<line x1="415.00" y1="328.56" x2="555.10" y2="328.56" stroke="#707070" stroke-width="1.1"/>
<line x1="415.00" y1="332.17" x2="555.10" y2="332.17" stroke="#707070" stroke-width="1.1"/>
<line x1="51.30" y1="335.79" x2="560.10" y2="335.79" stroke="#707070" stroke-width="1.1"/>
<line x1="385.30" y1="339.41" x2="569.70" y2="339.41" stroke="#707070" stroke-width="1.1"/>
<line x1="158.00" y1="343.02" x2="570.50" y2="343.02" stroke="#707070" stroke-width="1.1"/>
<line x1="158.00" y1="346.64" x2="570.50" y2="346.64" stroke="#707070" stroke-width="1.1"/>
<line x1="49.00" y1="350.26" x2="557.50" y2="350.26" stroke="#707070" stroke-width="1.1"/>
<line x1="49.18" y1="353.88" x2="569.20" y2="353.88" stroke="#707070" stroke-width="1.1"/>
<line x1="49.35" y1="357.49" x2="569.20" y2="357.49" stroke="#707070" stroke-width="1.1"/>
<line x1="49.53" y1="361.11" x2="557.40" y2="361.11" stroke="#707070" stroke-width="1.1"/>
<line x1="49.71" y1="364.73" x2="557.40" y2="364.73" stroke="#707070" stroke-width="1.1"/>
<line x1="49.88" y1="368.34" x2="567.90" y2="368.34" stroke="#707070" stroke-width="1.1"/>
<line x1="50.06" y1="371.96" x2="566.40" y2="371.96" stroke="#707070" stroke-width="1.1"/>
<line x1="50.24" y1="375.58" x2="566.40" y2="375.58" stroke="#707070" stroke-width="1.1"/>
<line x1="50.42" y1="379.19" x2="568.80" y2="379.19" stroke="#707070" stroke-width="1.1"/>
<line x1="50.59" y1="382.81" x2="568.80" y2="382.81" stroke="#707070" stroke-width="1.1"/>
<line x1="50.77" y1="386.43" x2="568.80" y2="386.43" stroke="#707070" stroke-width="1.1"/>
<line x1="50.95" y1="390.05" x2="568.80" y2="390.05" stroke="#707070" stroke-width="1.1"/>
<line x1="51.12" y1="393.66" x2="565.80" y2="393.66" stroke="#707070" stroke-width="1.1"/>
<line x1="51.30" y1="397.28" x2="565.80" y2="397.28" stroke="#707070" stroke-width="1.1"/>
<line x1="158.00" y1="400.90" x2="544.40" y2="400.90" stroke="#707070" stroke-width="1.1"/>
<line x1="158.20" y1="404.51" x2="568.20" y2="404.51" stroke="#707070" stroke-width="1.1"/>
<line x1="158.40" y1="408.13" x2="568.20" y2="408.13" stroke="#707070" stroke-width="1.1"/>
<line x1="158.60" y1="411.75" x2="568.20" y2="411.75" stroke="#707070" stroke-width="1.1"/>
<line x1="158.80" y1="415.37" x2="568.20" y2="415.37" stroke="#707070" stroke-width="1.1"/>
<line x1="159.00" y1="418.98" x2="547.00" y2="418.98" stroke="#707070" stroke-width="1.1"/>
<line x1="159.20" y1="422.60" x2="566.20" y2="422.60" stroke="#707070" stroke-width="1.1"/>
<line x1="159.40" y1="426.22" x2="567.90" y2="426.22" stroke="#707070" stroke-width="1.1"/>
<line x1="159.60" y1="429.83" x2="567.90" y2="429.83" stroke="#707070" stroke-width="1.1"/>
<line x1="159.80" y1="433.45" x2="567.90" y2="433.45" stroke="#707070" stroke-width="1.1"/>
<line x1="325.80" y1="437.07" x2="565.20" y2="437.07" stroke="#707070" stroke-width="1.1"/>
<line x1="346.80" y1="440.68" x2="564.90" y2="440.68" stroke="#707070" stroke-width="1.1"/>
<line x1="346.80" y1="444.30" x2="564.90" y2="444.30" stroke="#707070" stroke-width="1.1"/>
<line x1="426.40" y1="447.92" x2="569.70" y2="447.92" stroke="#707070" stroke-width="1.1"/>
<line x1="317.00" y1="451.53" x2="561.90" y2="451.53" stroke="#707070" stroke-width="1.1"/>
<line x1="158.60" y1="455.15" x2="562.20" y2="455.15" stroke="#707070" stroke-width="1.1"/>
<line x1="158.60" y1="458.77" x2="562.60" y2="458.77" stroke="#707070" stroke-width="1.1"/>
<line x1="158.60" y1="462.39" x2="563.00" y2="462.39" stroke="#707070" stroke-width="1.1"/>
<line x1="158.60" y1="466.00" x2="563.40" y2="466.00" stroke="#707070" stroke-width="1.1"/>
<line x1="158.60" y1="469.62" x2="563.80" y2="469.62" stroke="#707070" stroke-width="1.1"/>
<line x1="50.40" y1="473.24" x2="564.00" y2="473.24" stroke="#707070" stroke-width="1.1"/>
<line x1="50.40" y1="476.85" x2="564.55" y2="476.85" stroke="#707070" stroke-width="1.1"/>
<line x1="50.40" y1="480.47" x2="565.10" y2="480.47" stroke="#707070" stroke-width="1.1"/>
<line x1="50.40" y1="484.09" x2="565.65" y2="484.09" stroke="#707070" stroke-width="1.1"/>
<line x1="50.40" y1="487.70" x2="566.20" y2="487.70" stroke="#707070" stroke-width="1.1"/>
<line x1="158.60" y1="491.32" x2="567.00" y2="491.32" stroke="#707070" stroke-width="1.1"/>
<line x1="50.40" y1="494.94" x2="568.50" y2="494.94" stroke="#707070" stroke-width="1.1"/>
<line x1="50.40" y1="498.56" x2="568.50" y2="498.56" stroke="#707070" stroke-width="1.1"/>
<line x1="50.40" y1="502.17" x2="568.50" y2="502.17" stroke="#707070" stroke-width="1.1"/>
<line x1="427.50" y1="505.79" x2="569.00" y2="505.79" stroke="#707070" stroke-width="1.1"/>
<rect x="46.00" y="250.65" width="2.9" height="3.9" fill="#40a680"/>
<rect x="540.20" y="250.65" width="2.9" height="3.9" fill="#c36cb8"/>
<rect x="223.60" y="254.27" width="2.9" height="3.9" fill="#40a680"/>
<rect x="552.90" y="254.27" width="2.9" height="3.9" fill="#c36cb8"/>
<rect x="223.60" y="257.88" width="2.9" height="3.9" fill="#40a680"/>
<rect x="552.90" y="257.88" width="2.9" height="3.9" fill="#c36cb8"/>
<rect x="154.90" y="261.50" width="2.9" height="3.9" fill="#40a680"/>
<rect x="542.70" y="261.50" width="2.9" height="3.9" fill="#c36cb8"/>
<rect x="154.90" y="265.12" width="2.9" height="3.9" fill="#40a680"/>
<rect x="542.70" y="265.12" width="2.9" height="3.9" fill="#c36cb8"/>
<rect x="154.90" y="268.74" width="2.9" height="3.9" fill="#40a680"/>
<rect x="542.70" y="268.74" width="2.9" height="3.9" fill="#c36cb8"/>
<rect x="154.90" y="272.35" width="2.9" height="3.9" fill="#40a680"/>
<rect x="542.70" y="272.35" width="2.9" height="3.9" fill="#c36cb8"/>
<rect x="154.90" y="275.97" width="2.9" height="3.9" fill="#40a680"/>
<rect x="542.70" y="275.97" width="2.9" height="3.9" fill="#c36cb8"/>
<rect x="48.30" y="279.59" width="2.9" height="3.9" fill="#40a680"/>
<rect x="560.60" y="279.59" width="2.9" height="3.9" fill="#c36cb8"/>
<rect x="48.30" y="283.20" width="2.9" height="3.9" fill="#40a680"/>
<rect x="560.60" y="283.20" width="2.9" height="3.9" fill="#c36cb8"/>
<rect x="48.30" y="286.82" width="2.9" height="3.9" fill="#40a680"/>
<rect x="560.60" y="286.82" width="2.9" height="3.9" fill="#c36cb8"/>
<rect x="155.00" y="290.44" width="2.9" height="3.9" fill="#40a680"/>
<rect x="566.80" y="290.44" width="2.9" height="3.9" fill="#c36cb8"/>
<rect x="155.00" y="294.05" width="2.9" height="3.9" fill="#40a680"/>
<rect x="566.80" y="294.05" width="2.9" height="3.9" fill="#c36cb8"/>
<rect x="222.00" y="297.67" width="2.9" height="3.9" fill="#40a680"/>
<rect x="569.30" y="297.67" width="2.9" height="3.9" fill="#c36cb8"/>
<rect x="222.00" y="301.29" width="2.9" height="3.9" fill="#40a680"/>
<rect x="569.30" y="301.29" width="2.9" height="3.9" fill="#c36cb8"/>
<rect x="46.00" y="304.91" width="2.9" height="3.9" fill="#40a680"/>
<rect x="564.90" y="304.91" width="2.9" height="3.9" fill="#c36cb8"/>
<rect x="47.00" y="308.52" width="2.9" height="3.9" fill="#40a680"/>
<rect x="566.10" y="308.52" width="2.9" height="3.9" fill="#c36cb8"/>
<rect x="48.00" y="312.14" width="2.9" height="3.9" fill="#40a680"/>
<rect x="562.10" y="312.14" width="2.9" height="3.9" fill="#c36cb8"/>
<rect x="48.00" y="315.76" width="2.9" height="3.9" fill="#40a680"/>
<rect x="562.10" y="315.76" width="2.9" height="3.9" fill="#c36cb8"/>
<rect x="181.40" y="319.37" width="2.9" height="3.9" fill="#40a680"/>
<rect x="566.50" y="319.37" width="2.9" height="3.9" fill="#c36cb8"/>
<rect x="412.00" y="322.99" width="2.9" height="3.9" fill="#40a680"/>
<rect x="555.20" y="322.99" width="2.9" height="3.9" fill="#c36cb8"/>
<rect x="412.00" y="326.61" width="2.9" height="3.9" fill="#40a680"/>
<rect x="555.20" y="326.61" width="2.9" height="3.9" fill="#c36cb8"/>
<rect x="412.00" y="330.22" width="2.9" height="3.9" fill="#40a680"/>
<rect x="555.20" y="330.22" width="2.9" height="3.9" fill="#c36cb8"/>
<rect x="48.30" y="333.84" width="2.9" height="3.9" fill="#40a680"/>
<rect x="560.20" y="333.84" width="2.9" height="3.9" fill="#c36cb8"/>
<rect x="382.30" y="337.46" width="2.9" height="3.9" fill="#40a680"/>
<rect x="569.80" y="337.46" width="2.9" height="3.9" fill="#c36cb8"/>
<rect x="155.00" y="341.07" width="2.9" height="3.9" fill="#40a680"/>
<rect x="570.60" y="341.07" width="2.9" height="3.9" fill="#c36cb8"/>
<rect x="155.00" y="344.69" width="2.9" height="3.9" fill="#40a680"/>
<rect x="570.60" y="344.69" width="2.9" height="3.9" fill="#c36cb8"/>
<rect x="46.00" y="348.31" width="2.9" height="3.9" fill="#40a680"/>
<rect x="557.60" y="348.31" width="2.9" height="3.9" fill="#c36cb8"/>
<rect x="46.18" y="351.93" width="2.9" height="3.9" fill="#40a680"/>
<rect x="569.30" y="351.93" width="2.9" height="3.9" fill="#c36cb8"/>
<rect x="46.35" y="355.54" width="2.9" height="3.9" fill="#40a680"/>
<rect x="569.30" y="355.54" width="2.9" height="3.9" fill="#c36cb8"/>
<rect x="46.53" y="359.16" width="2.9" height="3.9" fill="#40a680"/>
<rect x="557.50" y="359.16" width="2.9" height="3.9" fill="#c36cb8"/>
<rect x="46.71" y="362.78" width="2.9" height="3.9" fill="#40a680"/>
<rect x="557.50" y="362.78" width="2.9" height="3.9" fill="#c36cb8"/>
<rect x="46.88" y="366.39" width="2.9" height="3.9" fill="#40a680"/>
<rect x="568.00" y="366.39" width="2.9" height="3.9" fill="#c36cb8"/>
<rect x="47.06" y="370.01" width="2.9" height="3.9" fill="#40a680"/>
<rect x="566.50" y="370.01" width="2.9" height="3.9" fill="#c36cb8"/>
<rect x="47.24" y="373.63" width="2.9" height="3.9" fill="#40a680"/>
<rect x="566.50" y="373.63" width="2.9" height="3.9" fill="#c36cb8"/>
<rect x="47.42" y="377.25" width="2.9" height="3.9" fill="#40a680"/>
<rect x="568.90" y="377.25" width="2.9" height="3.9" fill="#c36cb8"/>
<rect x="47.59" y="380.86" width="2.9" height="3.9" fill="#40a680"/>
<rect x="568.90" y="380.86" width="2.9" height="3.9" fill="#c36cb8"/>
<rect x="47.77" y="384.48" width="2.9" height="3.9" fill="#40a680"/>
<rect x="568.90" y="384.48" width="2.9" height="3.9" fill="#c36cb8"/>
<rect x="47.95" y="388.10" width="2.9" height="3.9" fill="#40a680"/>
<rect x="568.90" y="388.10" width="2.9" height="3.9" fill="#c36cb8"/>
<rect x="48.12" y="391.71" width="2.9" height="3.9" fill="#40a680"/>
<rect x="565.90" y="391.71" width="2.9" height="3.9" fill="#c36cb8"/>
<rect x="48.30" y="395.33" width="2.9" height="3.9" fill="#40a680"/>
<rect x="565.90" y="395.33" width="2.9" height="3.9" fill="#c36cb8"/>
<rect x="155.00" y="398.95" width="2.9" height="3.9" fill="#40a680"/>
<rect x="544.50" y="398.95" width="2.9" height="3.9" fill="#c36cb8"/>
<rect x="155.20" y="402.56" width="2.9" height="3.9" fill="#40a680"/>
<rect x="568.30" y="402.56" width="2.9" height="3.9" fill="#c36cb8"/>
<rect x="155.40" y="406.18" width="2.9" height="3.9" fill="#40a680"/>
<rect x="568.30" y="406.18" width="2.9" height="3.9" fill="#c36cb8"/>
<rect x="155.60" y="409.80" width="2.9" height="3.9" fill="#40a680"/>
<rect x="568.30" y="409.80" width="2.9" height="3.9" fill="#c36cb8"/>
<rect x="155.80" y="413.42" width="2.9" height="3.9" fill="#40a680"/>
<rect x="568.30" y="413.42" width="2.9" height="3.9" fill="#c36cb8"/>
<rect x="156.00" y="417.03" width="2.9" height="3.9" fill="#40a680"/>
<rect x="547.10" y="417.03" width="2.9" height="3.9" fill="#c36cb8"/>
<rect x="156.20" y="420.65" width="2.9" height="3.9" fill="#40a680"/>
<rect x="566.30" y="420.65" width="2.9" height="3.9" fill="#c36cb8"/>
<rect x="156.40" y="424.27" width="2.9" height="3.9" fill="#40a680"/>
<rect x="568.00" y="424.27" width="2.9" height="3.9" fill="#c36cb8"/>
<rect x="156.60" y="427.88" width="2.9" height="3.9" fill="#40a680"/>
<rect x="568.00" y="427.88" width="2.9" height="3.9" fill="#c36cb8"/>
<rect x="156.80" y="431.50" width="2.9" height="3.9" fill="#40a680"/>
<rect x="568.00" y="431.50" width="2.9" height="3.9" fill="#c36cb8"/>
<rect x="322.80" y="435.12" width="2.9" height="3.9" fill="#40a680"/>
<rect x="565.30" y="435.12" width="2.9" height="3.9" fill="#c36cb8"/>
<rect x="343.80" y="438.73" width="2.9" height="3.9" fill="#40a680"/>
<rect x="565.00" y="438.73" width="2.9" height="3.9" fill="#c36cb8"/>
<rect x="343.80" y="442.35" width="2.9" height="3.9" fill="#40a680"/>
<rect x="565.00" y="442.35" width="2.9" height="3.9" fill="#c36cb8"/>
<rect x="423.40" y="445.97" width="2.9" height="3.9" fill="#40a680"/>
<rect x="569.80" y="445.97" width="2.9" height="3.9" fill="#c36cb8"/>
<rect x="314.00" y="449.58" width="2.9" height="3.9" fill="#40a680"/>
<rect x="562.00" y="449.58" width="2.9" height="3.9" fill="#c36cb8"/>
<rect x="155.60" y="453.20" width="2.9" height="3.9" fill="#40a680"/>
<rect x="562.30" y="453.20" width="2.9" height="3.9" fill="#c36cb8"/>
<rect x="155.60" y="456.82" width="2.9" height="3.9" fill="#40a680"/>
<rect x="562.70" y="456.82" width="2.9" height="3.9" fill="#c36cb8"/>
<rect x="155.60" y="460.44" width="2.9" height="3.9" fill="#40a680"/>
<rect x="563.10" y="460.44" width="2.9" height="3.9" fill="#c36cb8"/>
<rect x="155.60" y="464.05" width="2.9" height="3.9" fill="#40a680"/>
<rect x="563.50" y="464.05" width="2.9" height="3.9" fill="#c36cb8"/>
<rect x="155.60" y="467.67" width="2.9" height="3.9" fill="#40a680"/>
<rect x="563.90" y="467.67" width="2.9" height="3.9" fill="#c36cb8"/>
<rect x="47.80" y="471.29" width="2.4" height="3.9" fill="#40a680"/>
<rect x="564.10" y="471.29" width="2.9" height="3.9" fill="#c36cb8"/>
<rect x="47.80" y="474.90" width="2.4" height="3.9" fill="#40a680"/>
<rect x="564.65" y="474.90" width="2.9" height="3.9" fill="#c36cb8"/>
<rect x="47.80" y="478.52" width="2.4" height="3.9" fill="#40a680"/>
<rect x="565.20" y="478.52" width="2.9" height="3.9" fill="#c36cb8"/>
<rect x="47.80" y="482.14" width="2.4" height="3.9" fill="#40a680"/>
<rect x="565.75" y="482.14" width="2.9" height="3.9" fill="#c36cb8"/>
<rect x="47.80" y="485.75" width="2.4" height="3.9" fill="#40a680"/>
<rect x="566.30" y="485.75" width="2.9" height="3.9" fill="#c36cb8"/>
<rect x="155.60" y="489.37" width="2.9" height="3.9" fill="#40a680"/>
<rect x="567.10" y="489.37" width="2.9" height="3.9" fill="#c36cb8"/>
<rect x="47.80" y="492.99" width="2.4" height="3.9" fill="#40a680"/>
<rect x="568.60" y="492.99" width="2.9" height="3.9" fill="#c36cb8"/>
<rect x="47.80" y="496.61" width="2.4" height="3.9" fill="#40a680"/>
<rect x="568.60" y="496.61" width="2.9" height="3.9" fill="#c36cb8"/>
<rect x="47.80" y="500.22" width="2.4" height="3.9" fill="#40a680"/>
<rect x="568.60" y="500.22" width="2.9" height="3.9" fill="#c36cb8"/>
<rect x="424.50" y="503.84" width="2.9" height="3.9" fill="#40a680"/>
<rect x="569.10" y="503.84" width="2.9" height="3.9" fill="#c36cb8"/>
<g style="will-change:transform"><text x="0.2" y="17.3" font-size="23.5" font-weight="700" fill="#000" stroke="#000" stroke-width="0.7" textLength="13.0" lengthAdjust="spacingAndGlyphs">a</text>
<text x="296.7" y="17.1" font-size="24.5" font-weight="700" fill="#000" stroke="#000" stroke-width="0.7" textLength="16.0" lengthAdjust="spacingAndGlyphs">b</text>
<text x="0.9" y="188.7" font-size="23.5" font-weight="700" fill="#000" stroke="#000" stroke-width="0.7" textLength="13.0" lengthAdjust="spacingAndGlyphs">c</text>
<text x="1.0" y="37.9" font-size="16" font-weight="400" fill="#1a1a1a" stroke="#1a1a1a" stroke-width="0.28" textLength="81" lengthAdjust="spacingAndGlyphs">Input cells</text>
<text x="128.4" y="37.5" font-size="16" font-weight="400" fill="#1a1a1a" stroke="#1a1a1a" stroke-width="0.28" textLength="115.3" lengthAdjust="spacingAndGlyphs">SMART-display</text>
<text x="361.5" y="38.3" font-size="16" font-weight="400" fill="#1a1a1a" stroke="#1a1a1a" stroke-width="0.28" textLength="47.5" lengthAdjust="spacingAndGlyphs">REILIS</text>
<text x="209.6" y="74.5" font-size="14" font-weight="400" fill="#1a1a1a" stroke="#1a1a1a" stroke-width="0.28" textLength="44.8" lengthAdjust="spacingAndGlyphs">Protein</text>
<text x="179.6" y="129.9" font-size="14" font-weight="400" fill="#1a1a1a" stroke="#1a1a1a" stroke-width="0.28" textLength="69.4" lengthAdjust="spacingAndGlyphs">Puromycin</text>
<text x="195.4" y="161.6" font-size="14" font-weight="400" fill="#1a1a1a" stroke="#1a1a1a" stroke-width="0.28" textLength="84.3" lengthAdjust="spacingAndGlyphs">Partial mRNA</text>
<text x="382.4" y="82.6" font-size="14.8" font-weight="400" fill="#1a1a1a" stroke="#1a1a1a" stroke-width="0.28" textLength="27.8" lengthAdjust="spacingAndGlyphs">RNA</text>
<text x="537.9" y="80.5" font-size="14" font-weight="400" fill="#1a1a1a" stroke="#1a1a1a" stroke-width="0.28" textLength="78.0" lengthAdjust="spacingAndGlyphs">Sequencing</text>
<text x="44.1" y="200.2" font-size="15.4" font-weight="400" fill="#1a1a1a" stroke="#1a1a1a" stroke-width="0.28" textLength="116.0" lengthAdjust="spacingAndGlyphs">PHGDH protein</text>
<text x="489.5" y="200.2" font-size="15.4" font-weight="400" fill="#1a1a1a" stroke="#1a1a1a" stroke-width="0.28" textLength="76.5" lengthAdjust="spacingAndGlyphs">ATF4 RNA</text>
<text x="43.6" y="242.7" font-size="15.4" font-weight="400" fill="#1a1a1a" stroke="#1a1a1a" stroke-width="0.28" textLength="87.6" lengthAdjust="spacingAndGlyphs">Protein end</text>
<text x="497.9" y="242.6" font-size="15.4" font-weight="400" fill="#1a1a1a" stroke="#1a1a1a" stroke-width="0.28" textLength="66.8" lengthAdjust="spacingAndGlyphs">RNA end</text></g>
</svg>
</body></html>
